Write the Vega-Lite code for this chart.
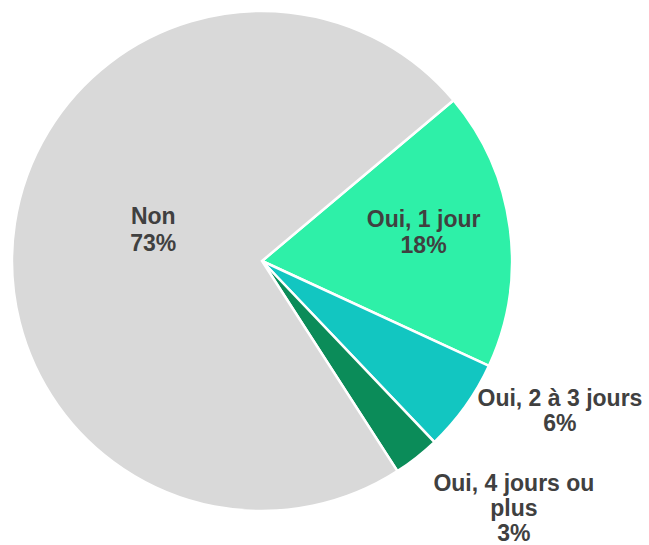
{
  "$schema": "https://vega.github.io/schema/vega-lite/v6.json",
  "width": 524,
  "height": 522,
  "autosize": "none",
  "padding": {"left": 0, "top": 0, "right": 125, "bottom": 23},
  "background": "white",
  "config": {"view": {"stroke": null}},
  "data": {
    "values": [
      {"cat": "Oui, 1 jour", "rank": 1, "value": 18, "label": ["Oui, 1 jour", "18%"]},
      {"cat": "Oui, 2 à 3 jours", "rank": 2, "value": 6, "label": ["Oui, 2 à 3 jours", "6%"]},
      {"cat": "Oui, 4 jours ou plus", "rank": 3, "value": 3, "label": ["Oui, 4 jours ou", "plus", "3%"]},
      {"cat": "Non", "rank": 4, "value": 73, "label": ["Non", "73%"]}
    ]
  },
  "encoding": {
    "theta": {"field": "value", "type": "quantitative", "stack": true, "scale": {"range": [0.87266, 7.15585]}},
    "order": {"field": "rank", "type": "quantitative"}
  },
  "layer": [
    {
      "mark": {"type": "arc", "outerRadius": 250, "stroke": "white", "strokeWidth": 2.5},
      "encoding": {
        "color": {
          "field": "cat", "type": "nominal", "legend": null,
          "scale": {
            "domain": ["Oui, 1 jour", "Oui, 2 à 3 jours", "Oui, 4 jours ou plus", "Non"],
            "range": ["#2ef0a8", "#12c6c1", "#0b8c59", "#d9d9d9"]
          }
        }
      }
    },
    {
      "mark": {"type": "text", "radius": 112, "dx": 2, "dy": -27, "font": "Liberation Sans", "fontWeight": "bold", "fontSize": 23, "lineHeight": 27, "fill": "#404040", "align": "center", "baseline": "middle"},
      "encoding": {"text": {"condition": {"test": "datum.cat === 'Non'", "field": "label"}, "value": ""}}
    },
    {
      "mark": {"type": "text", "radius": 160, "dx": 3, "dy": -20, "font": "Liberation Sans", "fontWeight": "bold", "fontSize": 23, "lineHeight": 26, "fill": "#404040", "align": "center", "baseline": "middle"},
      "encoding": {"text": {"condition": {"test": "datum.cat === 'Oui, 1 jour'", "field": "label"}, "value": ""}}
    },
    {
      "mark": {"type": "text", "radius": 300, "dx": 54, "dy": -37, "font": "Liberation Sans", "fontWeight": "bold", "fontSize": 23, "lineHeight": 25, "fill": "#404040", "align": "center", "baseline": "middle"},
      "encoding": {"text": {"condition": {"test": "datum.cat === 'Oui, 2 à 3 jours'", "field": "label"}, "value": ""}}
    },
    {
      "mark": {"type": "text", "radius": 320, "dx": 54, "dy": -28, "font": "Liberation Sans", "fontWeight": "bold", "fontSize": 23, "lineHeight": 25, "fill": "#404040", "align": "center", "baseline": "middle"},
      "encoding": {"text": {"condition": {"test": "datum.cat === 'Oui, 4 jours ou plus'", "field": "label"}, "value": ""}}
    }
  ]
}
